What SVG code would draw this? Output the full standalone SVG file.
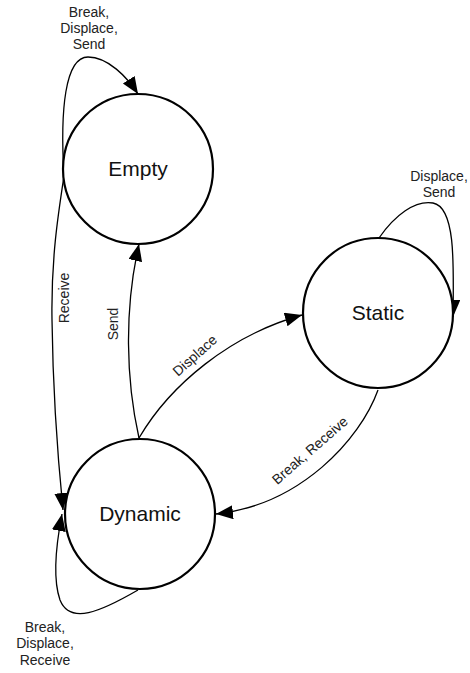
<svg xmlns="http://www.w3.org/2000/svg" width="470" height="673" viewBox="0 0 470 673">
<defs>
<marker id="arr" markerUnits="userSpaceOnUse" markerWidth="19" markerHeight="16" refX="17" refY="7" orient="auto">
<path d="M0,0 L17,7 L0,14 z" fill="#000"/>
</marker>
<style>
.node{fill:#fff;stroke:#000;stroke-width:2.2}
.nl{font-family:"Liberation Sans",Arial,sans-serif;font-size:21px;text-anchor:middle;fill:#111}
.el{fill:none;stroke:#000;stroke-width:1.3;marker-end:url(#arr)}
.lb{font-family:"Liberation Sans",Arial,sans-serif;font-size:14px;text-anchor:middle;fill:#222}
</style>
</defs>
<rect width="470" height="673" fill="#fff"/>
<g id="edges">
<path class="el" d="M 64 176 C 60 110, 65 57, 88 57 C 108 57, 127 77, 138 94"/>
<path class="el" d="M 64 176 C 58 215, 51 260, 52 320 C 53 400, 58 460, 63 510"/>
<path class="el" d="M 139 438 C 126 380, 124 310, 139 244"/>
<path class="el" d="M 139 438 C 170 385, 230 335, 302 315"/>
<path class="el" d="M 379 238 C 395 215, 415 200, 433 203 C 455 207, 454 260, 453 317"/>
<path class="el" d="M 378 390 C 360 440, 300 505, 216 514"/>
<path class="el" d="M 138 590 C 100 612, 70 625, 60 600 C 53 580, 56 545, 62 514"/>
<text class="lb" x="89" y="17">Break,</text>
<text class="lb" x="89" y="33">Displace,</text>
<text class="lb" x="89" y="49">Send</text>
<text class="lb" x="439" y="181">Displace,</text>
<text class="lb" x="439" y="197">Send</text>
<text class="lb" x="45" y="632">Break,</text>
<text class="lb" x="45" y="648">Displace,</text>
<text class="lb" x="45" y="665">Receive</text>
<text class="lb" transform="translate(69,298) rotate(-90)">Receive</text>
<text class="lb" transform="translate(118,324) rotate(-90)">Send</text>
<text class="lb" transform="translate(198,359) rotate(-42)">Displace</text>
<text class="lb" transform="translate(313,454) rotate(-41)">Break, Receive</text>
</g>
<g id="empty">
<circle class="node" cx="138" cy="169" r="75"/>
<text class="nl" x="138" y="176">Empty</text>
</g>
<g id="static">
<circle class="node" cx="378" cy="313" r="75"/>
<text class="nl" x="378" y="320">Static</text>
</g>
<g id="dynamic">
<circle class="node" cx="140" cy="514" r="75"/>
<text class="nl" x="140" y="521">Dynamic</text>
</g>
</svg>
